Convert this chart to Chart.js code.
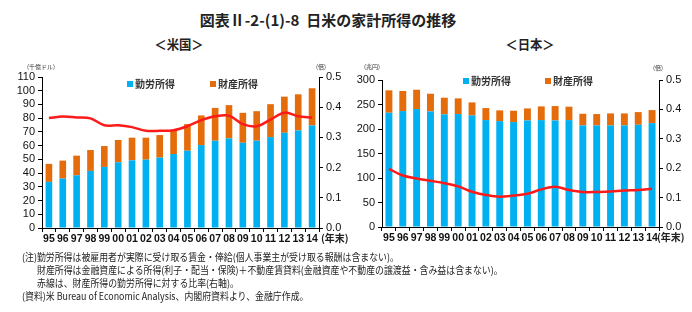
<!DOCTYPE html>
<html>
<head>
<meta charset="utf-8">
<script src="https://cdn.jsdelivr.net/npm/chart.js@4/dist/chart.umd.min.js"></script>
<style>
  body { margin: 0; background: #fff; }
  #wrap { position: relative; width: 692px; height: 312px; overflow: hidden;
    font-family: 'Noto Sans CJK JP', sans-serif; color: #222; }
  .t { position: absolute; white-space: nowrap; line-height: 1; }
  canvas { position: absolute; }
  .title { font-size: 15px; font-weight: bold; top: 12px; left: 328px; transform: translateX(-50%); }
  .sub { font-size: 13px; font-weight: bold; top: 37px; transform: translateX(-50%) scaleX(0.95); }
  .unit { font-size: 6px; color: #333; }
  .leg { font-size: 10px; font-weight: bold; color: #333; }
  .leg i { display: inline-block; width: 6px; height: 6px; margin-right: 2px; vertical-align: 1px; }
  .nen { font-size: 10px; font-weight: bold; color: #222; }
  .note { font-size: 10px; transform-origin: 0 0; transform: scaleX(0.89); }
</style>
</head>
<body>
<div id="wrap">
  <div class="t title">図表Ⅱ-2-(1)-8&nbsp; 日米の家計所得の推移</div>
  <div class="t sub" style="left:179px">＜米国＞</div>
  <div class="t sub" style="left:530px">＜日本＞</div>

  <canvas id="us" width="350" height="190" style="left:0;top:60px"></canvas>
  <canvas id="jp" width="342" height="190" style="left:350px;top:60px"></canvas>

  <div class="t unit" style="left:27px;top:64px">(千億ドル)</div>
  <div class="t unit" style="left:316px;top:64px">(倍)</div>
  <div class="t unit" style="left:364px;top:64px">(兆円)</div>
  <div class="t unit" style="left:653px;top:65px">(倍)</div>

  <div class="t leg" style="left:127px;top:79px"><i style="background:#00b0f0"></i>勤労所得</div>
  <div class="t leg" style="left:210px;top:79px"><i style="background:#e46c0a"></i>財産所得</div>
  <div class="t leg" style="left:463px;top:76px"><i style="background:#00b0f0"></i>勤労所得</div>
  <div class="t leg" style="left:545px;top:76px"><i style="background:#e46c0a"></i>財産所得</div>

  <div class="t nen" style="left:321px;top:233px">(年末)</div>
  <div class="t nen" style="left:657px;top:232px">(年末)</div>

  <div class="t note" style="left:22px;top:252px">(注)勤労所得は被雇用者が実際に受け取る賃金・俸給(個人事業主が受け取る報酬は含まない)。</div>
  <div class="t note" style="left:37px;top:265px">財産所得は金融資産による所得(利子・配当・保険)＋不動産賃貸料(金融資産や不動産の譲渡益・含み益は含まない)。</div>
  <div class="t note" style="left:37px;top:278px">赤線は、財産所得の勤労所得に対する比率(右軸)。</div>
  <div class="t note" style="left:22px;top:291px">(資料)米 Bureau of Economic Analysis、内閣府資料より、金融庁作成。</div>
</div>

<script>
const years = ['95','96','97','98','99','00','01','02','03','04','05','06','07','08','09','10','11','12','13','14'];

// 米国 (千億ドル)
const usLabor    = [33.6,36.0,38.4,41.6,44.5,47.9,49.3,49.8,51.3,53.9,56.3,60.4,63.6,65.3,62.1,63.6,66.2,69.4,71.1,74.7];
const usProperty = [13.1,13.1,14.3,15.2,15.2,16.2,16.5,16.0,16.4,16.9,19.4,21.6,23.9,24.2,21.8,21.5,24.0,26.3,26.3,27.1];
const usRatio    = [0.364,0.369,0.366,0.363,0.340,0.340,0.334,0.322,0.322,0.324,0.337,0.357,0.370,0.372,0.344,0.337,0.359,0.382,0.370,0.366];

// 日本 (兆円)
const jpLabor    = [233.2,236.6,240.7,235.9,229.8,230.5,227.7,218.2,216.1,214.1,217.5,218.2,217.5,218.2,207.3,207.3,207.3,207.3,208.6,212.0];
const jpProperty = [45.7,40.9,39.5,36.1,34.1,32.0,26.6,24.5,21.9,23.2,24.5,27.9,29.3,27.3,23.8,23.2,24.5,24.5,25.9,26.6];
const jpRatio    = [0.198,0.175,0.165,0.157,0.149,0.138,0.120,0.109,0.103,0.107,0.113,0.128,0.137,0.126,0.119,0.119,0.121,0.124,0.126,0.130];

const BLUE = '#00b0f0';
const ORANGE = '#e46c0a';
const RED = '#ff1a1a';

Chart.defaults.font.family = "'Liberation Sans Narrow', 'Liberation Sans', Arial, sans-serif";
Chart.defaults.color = '#111';

function fixW(w) { return (s) => { s.width = w; }; }
function fixH(h) { return (s) => { s.height = h; }; }

function makeChart(id, labor, property, ratio, opt) {
  const axisGrid = { display: true, drawOnChartArea: false, drawTicks: true, tickLength: 4, color: '#000', lineWidth: 1 };
  return new Chart(document.getElementById(id), {
    data: {
      labels: years,
      datasets: [
        { type: 'line', label: '比率', data: ratio, yAxisID: 'y2', borderColor: RED, borderWidth: 2.5,
          pointRadius: 0, tension: 0.35, order: 0 },
        { type: 'bar', label: '勤労所得', data: labor, backgroundColor: BLUE, yAxisID: 'y',
          barPercentage: opt.bar, categoryPercentage: 1, order: 1 },
        { type: 'bar', label: '財産所得', data: property, backgroundColor: ORANGE, yAxisID: 'y',
          barPercentage: opt.bar, categoryPercentage: 1, order: 1 },
      ]
    },
    options: {
      responsive: false,
      animation: false,
      devicePixelRatio: 1,
      layout: { padding: { top: opt.top, left: 0, right: 0, bottom: 0 } },
      plugins: { legend: { display: false }, tooltip: { enabled: false } },
      scales: {
        x: {
          stacked: true,
          grid: Object.assign({}, axisGrid, { offset: true }),
          border: { display: true, color: '#000' },
          ticks: { font: { size: 10.5, weight: 'bold' }, padding: 1, maxRotation: 0, autoSkip: false },
          afterFit: fixH(opt.xh),
        },
        y: {
          stacked: true,
          position: 'left',
          min: 0, max: opt.max,
          grid: axisGrid,
          border: { display: true, color: '#000' },
          ticks: { stepSize: opt.step, font: { size: 11 }, padding: 3, autoSkip: false },
          afterFit: fixW(opt.lw),
        },
        y2: {
          position: 'right',
          min: 0, max: 0.5,
          grid: axisGrid,
          border: { display: true, color: '#000' },
          ticks: { stepSize: 0.1, font: { size: 11 }, padding: 3, autoSkip: false, callback: (v) => v.toFixed(1) },
          afterFit: fixW(opt.rw),
        }
      }
    }
  });
}

makeChart('us', usLabor, usProperty, usRatio, { max: 110, step: 10, top: 17, xh: 22, lw: 42, rw: 31, bar: 0.48 });
makeChart('jp', jpLabor, jpProperty, jpRatio, { max: 300, step: 50, top: 20, xh: 23, lw: 32, rw: 33, bar: 0.5 });
</script>
</body>
</html>
